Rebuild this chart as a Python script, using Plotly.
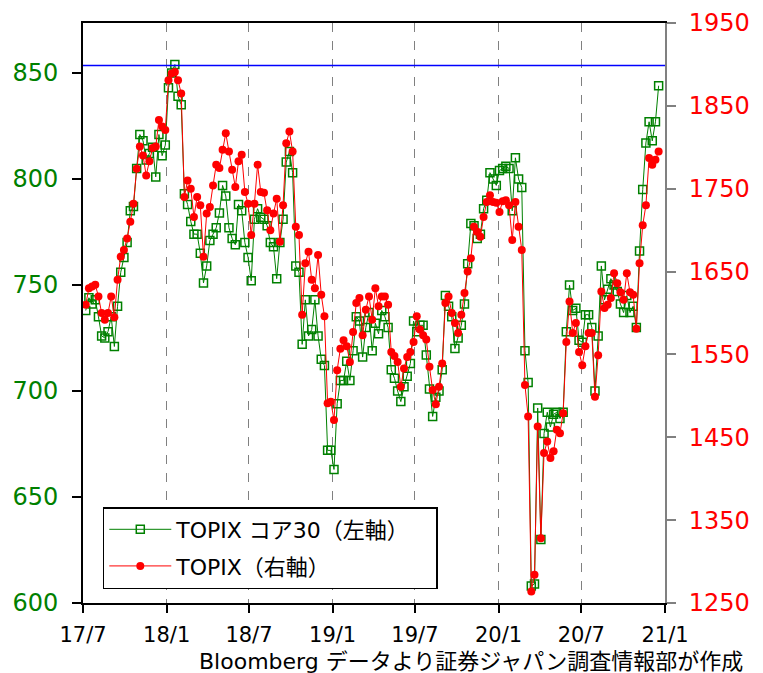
import pandas as pd
import plotly.graph_objects as go

# TOPIX (right axis), weekly
topix = [
    1610, 1630, 1632, 1634, 1620, 1600, 1592, 1600, 1620, 1595,
    1640, 1668, 1676, 1690, 1710, 1732, 1774, 1801, 1790, 1766,
    1783, 1799, 1801, 1833, 1825, 1821, 1881, 1889, 1891, 1881,
    1865, 1740, 1760, 1750, 1716, 1740, 1730, 1668, 1720, 1728,
    1754, 1779, 1775, 1797, 1817, 1795, 1773, 1752, 1783, 1791,
    1746, 1732, 1694, 1732, 1779, 1746, 1745, 1724, 1700, 1720,
    1738, 1686, 1730, 1805, 1819, 1795, 1704, 1694, 1598, 1660,
    1674, 1640, 1630, 1670, 1622, 1596, 1491, 1493, 1471, 1531,
    1557, 1567, 1560, 1541, 1577, 1612, 1618, 1573, 1604, 1620,
    1592, 1630, 1608, 1620, 1620, 1610, 1553, 1548, 1541, 1511,
    1533, 1547, 1553, 1565, 1596, 1580, 1573, 1568, 1535, 1507,
    1490, 1511, 1539, 1612, 1620, 1600, 1588, 1576, 1598, 1624,
    1650, 1666, 1704, 1698, 1692, 1716, 1734, 1742, 1734, 1733,
    1722, 1735, 1736, 1730, 1688, 1734, 1704, 1676, 1513, 1475,
    1264, 1284, 1463, 1328, 1431, 1445, 1425, 1433, 1459, 1455,
    1479, 1565, 1614, 1576, 1588, 1553, 1537, 1560, 1576, 1576,
    1499, 1549, 1626, 1606, 1610, 1618, 1648, 1636, 1625, 1616,
    1648, 1625, 1622, 1581, 1660, 1706, 1730, 1787, 1779, 1785,
    1795,
]

# TOPIX Core30 (left axis), weekly
core30 = [
    738, 744, 741, 743, 735, 726, 725, 728, 735, 721,
    740, 756, 763, 770, 785, 787, 805, 821, 818, 809,
    812, 815, 801, 821, 811, 816, 843, 850, 854, 839,
    835, 793, 788, 780, 774, 774, 765, 751, 759, 771,
    774, 777, 784, 797, 792, 777, 772, 769, 788, 785,
    770, 763, 752, 781, 786, 782, 781, 778, 770, 768,
    753, 770, 781, 808, 813, 803, 759, 756, 722, 743,
    726, 729, 743, 726, 715, 712, 672, 672, 663, 694,
    705, 705, 714, 705, 719, 735, 733, 716, 730, 737,
    719, 732, 727, 738, 735, 730, 710, 706, 700, 695,
    702, 707, 713, 733, 728, 731, 731, 717, 701, 688,
    697, 700, 710, 745, 740, 735, 720, 725, 731, 741,
    760, 779, 778, 772, 774, 786, 790, 803, 800, 797,
    804, 805, 806, 805, 785, 810, 800, 796, 719, 704,
    608, 609, 692, 630, 680, 690, 683, 689, 690, 687,
    690, 728, 750, 738, 739, 724, 723, 736, 736, 730,
    700, 726, 759, 743, 748, 753, 750, 747, 741, 737,
    745, 737, 740, 730, 766, 795, 817, 827, 818, 827,
    844,
]

dates = pd.date_range(start="2017-07-07", periods=len(topix), freq="7D")

x_tickvals = ["2017-07-01", "2018-01-01", "2018-07-01", "2019-01-01",
              "2019-07-01", "2020-01-01", "2020-07-01", "2021-01-01"]
x_ticktext = ["17/7", "18/1", "18/7", "19/1", "19/7", "20/1", "20/7", "21/1"]
left_ticks = [600, 650, 700, 750, 800, 850]
right_ticks = [1250, 1350, 1450, 1550, 1650, 1750, 1850, 1950]
ref_level = 853.5  # blue horizontal line (left axis)

GREEN = "#008000"
RED = "#FF0000"
num_font = "DejaVu Sans"
mix_font = "DejaVu Sans, Noto Sans CJK JP"
NBSP = "\u00a0"

fig = go.Figure()
fig.add_trace(go.Scatter(
    x=dates, y=core30, name="TOPIX コア30（左軸）" + NBSP * 3, yaxis="y",
    legendgroup="a",
    mode="lines+markers",
    line=dict(color=GREEN, width=1),
    marker=dict(symbol="square-open", size=8, color=GREEN, line=dict(width=1.5, color=GREEN)),
))
fig.add_trace(go.Scatter(
    x=dates, y=topix, name="TOPIX（右軸）", yaxis="y2",
    legendgroup="b",
    mode="lines+markers",
    line=dict(color=RED, width=1),
    marker=dict(symbol="circle", size=8, color=RED),
))

fig.add_shape(type="line", xref="paper", yref="y", x0=0, x1=1, y0=ref_level, y1=ref_level,
              line=dict(color="#0000FF", width=1.5))

# page body has an 8px margin, so the figure is sized/offset to compensate
fig.update_layout(
    width=755, height=665,
    margin=dict(l=75, r=98, t=15, b=70, autoexpand=False),
    paper_bgcolor="white", plot_bgcolor="white",
    showlegend=True,
    legend=dict(
        x=0.034, y=0.1655, xanchor="left", yanchor="top",
        bgcolor="white", bordercolor="black", borderwidth=1.5,
        font=dict(family=mix_font, size=22, color="black"),
        itemwidth=62, tracegroupgap=5,
    ),
    xaxis=dict(
        type="date", automargin=False,
        range=["2017-07-01", "2021-01-01"],
        tickvals=x_tickvals, ticktext=x_ticktext,
        ticks="outside", ticklen=8, tickcolor="black", tickwidth=1.5,
        ticklabelstandoff=4,
        showline=True, linecolor="black", linewidth=2, mirror=True,
        showgrid=True, gridcolor="#808080", griddash="dash", gridwidth=1,
        tickfont=dict(family=num_font, size=21, color="black"),
        zeroline=False,
    ),
    yaxis=dict(
        range=[600, 873.6], automargin=False,
        tickvals=left_ticks,
        ticks="outside", ticklen=9, tickcolor="black", tickwidth=1.5,
        ticklabelstandoff=9,
        showline=True, linecolor="black", linewidth=2,
        showgrid=False, zeroline=False,
        tickfont=dict(family=num_font, size=24, color=GREEN),
    ),
    yaxis2=dict(
        range=[1250, 1950], automargin=False,
        tickvals=right_ticks,
        overlaying="y", side="right",
        ticks="outside", ticklen=9, tickcolor="#808080", tickwidth=1.5,
        ticklabelstandoff=8,
        showline=True, linecolor="#808080", linewidth=2,
        showgrid=False, zeroline=False,
        tickfont=dict(family=num_font, size=24, color=RED),
    ),
)

fig.add_annotation(
    text="Bloomberg データより証券ジャパン調査情報部が作成",
    xref="paper", yref="paper", x=1.137, y=-0.1017,
    xanchor="right", yanchor="middle", showarrow=False,
    font=dict(family=mix_font, size=22, color="black"),
)

fig.write_html("out.html")
